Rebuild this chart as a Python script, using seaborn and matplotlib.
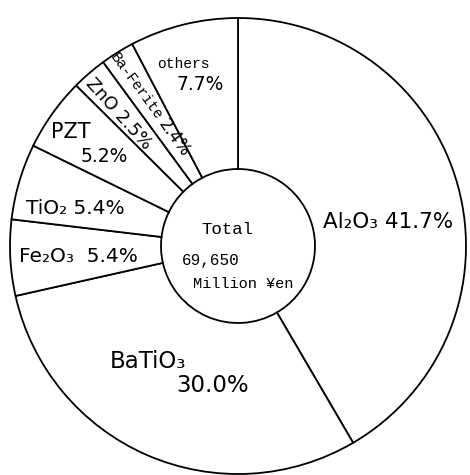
import matplotlib
matplotlib.use("Agg")
import matplotlib.pyplot as plt
import seaborn as sns

# ---- data ----
categories = ["Al₂O₃", "BaTiO₃", "Fe₂O₃", "TiO₂", "PZT", "ZnO", "Ba-Ferite", "others"]
shares = [41.7, 30.0, 5.4, 5.4, 5.2, 2.5, 2.4, 7.7]
total_lines = ["Total", "69,650", "Million ¥en"]

sns.set_theme(style="white")
plt.rcParams["font.family"] = ["DejaVu Sans"]

W, H = 470, 475
fig = plt.figure(figsize=(W / 100, H / 100), dpi=100)
ax = fig.add_axes([0, 0, 1, 1])

cx, cy, R = 238, 246, 228
inner = 77 / R

ax.pie(shares, startangle=90, counterclock=False, radius=1,
       colors=["white"] * len(shares),
       wedgeprops=dict(width=1 - inner, edgecolor="black", linewidth=1.3))

ax.set_xlim(-cx / R, (W - cx) / R)
ax.set_ylim(-(H - cy) / R, cy / R)
ax.set_aspect("auto")
ax.axis("off")


def put(px, py, s, size=13, rot=0, family=None, ha="center", weight="normal"):
    kw = {}
    if family:
        kw["family"] = family
    ax.text(px / W, 1 - py / H, s, transform=ax.transAxes, ha=ha, va="center",
            fontsize=size, rotation=rot, color="black", rotation_mode="anchor",
            fontweight=weight, **kw)


put(388, 222, f"{categories[0]} {shares[0]:.1f}%", size=15.5)
put(148, 362, categories[1], size=16.5)
put(213, 386, f"{shares[1]:.1f}%", size=16.5)
put(78, 256, f"{categories[2]}  {shares[2]:.1f}%", size=14.5)
put(75, 208, f"{categories[3]} {shares[3]:.1f}%", size=14.5)
put(71, 132, categories[4], size=15)
put(104, 157, f"{shares[4]:.1f}%", size=13.5)
put(119, 114, f"{categories[5]} {shares[5]:.1f}%", size=13, rot=-48)
put(136, 87, categories[6], size=10.5, rot=-54, family="Liberation Mono")
put(174, 138, f"{shares[6]:.1f}%", size=12, rot=-54)
put(183, 64, categories[7], size=10.5, family="Liberation Mono")
put(200, 84, f"{shares[7]:.1f}%", size=13.5)

put(227, 229, total_lines[0], size=12.5, family="Liberation Mono")
put(211, 261, total_lines[1], size=11.5, family="Liberation Mono")
put(243, 284, total_lines[2], size=11, family="Liberation Mono")

fig.savefig("out.png", dpi=100, facecolor="white")
